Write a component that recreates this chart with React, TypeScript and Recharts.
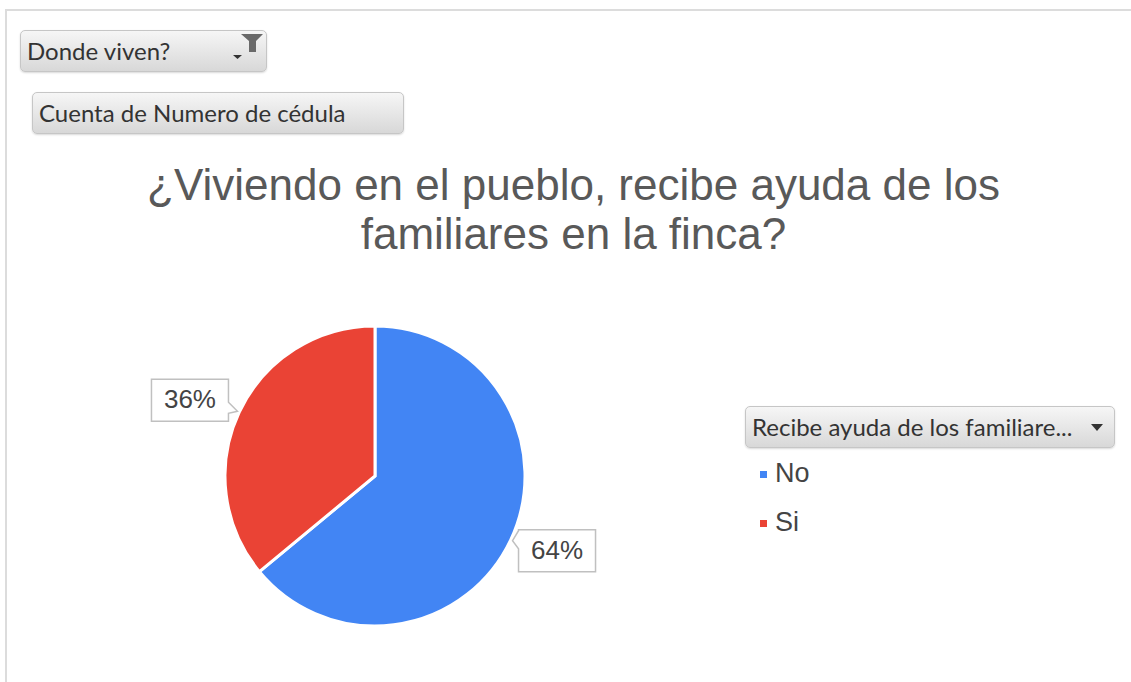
import React from 'react';
import { PieChart, Pie, Cell, Legend } from 'recharts';

// chart values
const categories = ['No', 'Si'];
const shares = [64, 36];
const colors = ['#4285f4', '#ea4335'];

const chartTitle = ['¿Viviendo en el pueblo, recibe ayuda de los', 'familiares en la finca?'];
const filterField = 'Donde viven?';
const valueField = 'Cuenta de Numero de cédula';
const legendField = 'Recibe ayuda de los familiare...';

const data = categories.map((name, i) => ({ name, value: shares[i], fill: colors[i] }));

const RAD = Math.PI / 180;
const uiFont = 'Lato, "Open Sans", sans-serif';
const chartFont = '"Liberation Sans", Arial, sans-serif';

const buttonStyle: React.CSSProperties = {
  position: 'absolute',
  height: 42,
  boxSizing: 'border-box',
  border: '1px solid #c6c6c6',
  borderRadius: 5,
  background: 'linear-gradient(#f6f6f6, #d8d8d8)',
  boxShadow: '0 1px 2px rgba(0,0,0,0.15)',
  fontFamily: uiFont,
  fontSize: 24,
  color: '#333',
  lineHeight: '40px',
  paddingLeft: 6,
  whiteSpace: 'nowrap',
};

// callout box with a little pointer that touches the slice edge
const CalloutLabel = (props: any) => {
  const { cx, cy, midAngle, outerRadius, percent } = props;
  const cos = Math.cos(-midAngle * RAD);
  const sin = Math.sin(-midAngle * RAD);
  const tx = cx + (outerRadius + 2) * cos;
  const ty = cy + (outerRadius + 2) * sin;
  const w = 77;
  const h = 42;
  const left = cos < 0;
  let path: string;
  let bx: number;
  let by: number;
  if (left) {
    bx = tx - 9 - w;
    by = ty - 32;
    const r = bx + w;
    path = `M${bx},${by} H${r} V${ty - 9} L${tx},${ty} L${r},${ty + 2} V${by + h} H${bx} Z`;
  } else {
    bx = tx + 6;
    by = ty - 11;
    path = `M${bx},${by} H${bx + w} V${by + h} H${bx} V${ty + 8} L${tx},${ty} L${bx},${by + 1} Z`;
  }
  return (
    <g>
      <path d={path} fill="#fff" stroke="#c0c0c0" strokeWidth={1.5} />
      <text
        x={bx + w / 2}
        y={by + h / 2 + 1}
        textAnchor="middle"
        dominantBaseline="middle"
        fill="#444"
        fontSize={26}
        fontFamily={chartFont}
      >
        {`${Math.round(percent * 100)}%`}
      </text>
    </g>
  );
};

const LegendBox = ({ payload }: any) => (
  <div style={{ position: 'relative', width: 370 }}>
    <div style={{ ...buttonStyle, position: 'relative', width: 370 }}>
      {legendField}
      <svg width={12} height={8} style={{ position: 'absolute', right: 11, top: 17 }}>
        <polygon points="0,0 12,0 6,7" fill="#333" />
      </svg>
    </div>
    {(payload || []).map((entry: any) => (
      <div
        key={entry.value}
        style={{
          display: 'flex',
          alignItems: 'center',
          height: 48,
          marginLeft: 15,
          marginTop: 1,
          fontFamily: chartFont,
          fontSize: 27,
          color: '#444',
        }}
      >
        <span style={{ width: 7, height: 7, background: entry.color, marginRight: 8, marginTop: 2 }} />
        {entry.value}
      </div>
    ))}
  </div>
);

export default function App() {
  return (
    <div
      style={{
        position: 'absolute',
        left: 0,
        top: 0,
        width: 1131,
        height: 682,
        background: '#fff',
        overflow: 'hidden',
      }}
    >
      {/* pivot chart frame */}
      <div
        style={{
          position: 'absolute',
          left: 5,
          top: 9,
          width: 1140,
          height: 700,
          borderTop: '2px solid #dcdcdc',
          borderLeft: '2px solid #dcdcdc',
        }}
      />

      <div style={{ ...buttonStyle, left: 20, top: 30, width: 247 }}>
        {filterField}
        <svg width={32} height={30} style={{ position: 'absolute', left: 211, top: 2 }}>
          <polygon points="9,1 31,1 24,8 24,19 17,19 17,8" fill="#6a6a6a" />
          <polygon points="1,22 10,22 5.5,26" fill="#333" />
        </svg>
      </div>
      <div style={{ ...buttonStyle, left: 32, top: 92, width: 372 }}>{valueField}</div>

      <div
        style={{
          position: 'absolute',
          left: 0,
          top: 160,
          width: 1147,
          textAlign: 'center',
          fontFamily: chartFont,
          fontSize: 44,
          lineHeight: '49px',
          color: '#595959',
        }}
      >
        {chartTitle.map((t) => (
          <div key={t}>{t}</div>
        ))}
      </div>

      <div style={{ position: 'absolute', left: 0, top: 0 }}>
        <PieChart width={1131} height={682} margin={{ top: 0, right: 0, bottom: 0, left: 0 }}>
          <Pie
            data={data}
            dataKey="value"
            nameKey="name"
            cx={375}
            cy={476}
            outerRadius={150}
            startAngle={90}
            endAngle={-270}
            stroke="#fff"
            strokeWidth={3}
            labelLine={false}
            label={CalloutLabel}
            isAnimationActive={false}
          >
            {data.map((d) => (
              <Cell key={d.name} fill={d.fill} />
            ))}
          </Pie>
          <Legend
            layout="vertical"
            content={<LegendBox />}
            wrapperStyle={{ position: 'absolute', left: 745, top: 406, width: 370 }}
          />
        </PieChart>
      </div>
    </div>
  );
}
